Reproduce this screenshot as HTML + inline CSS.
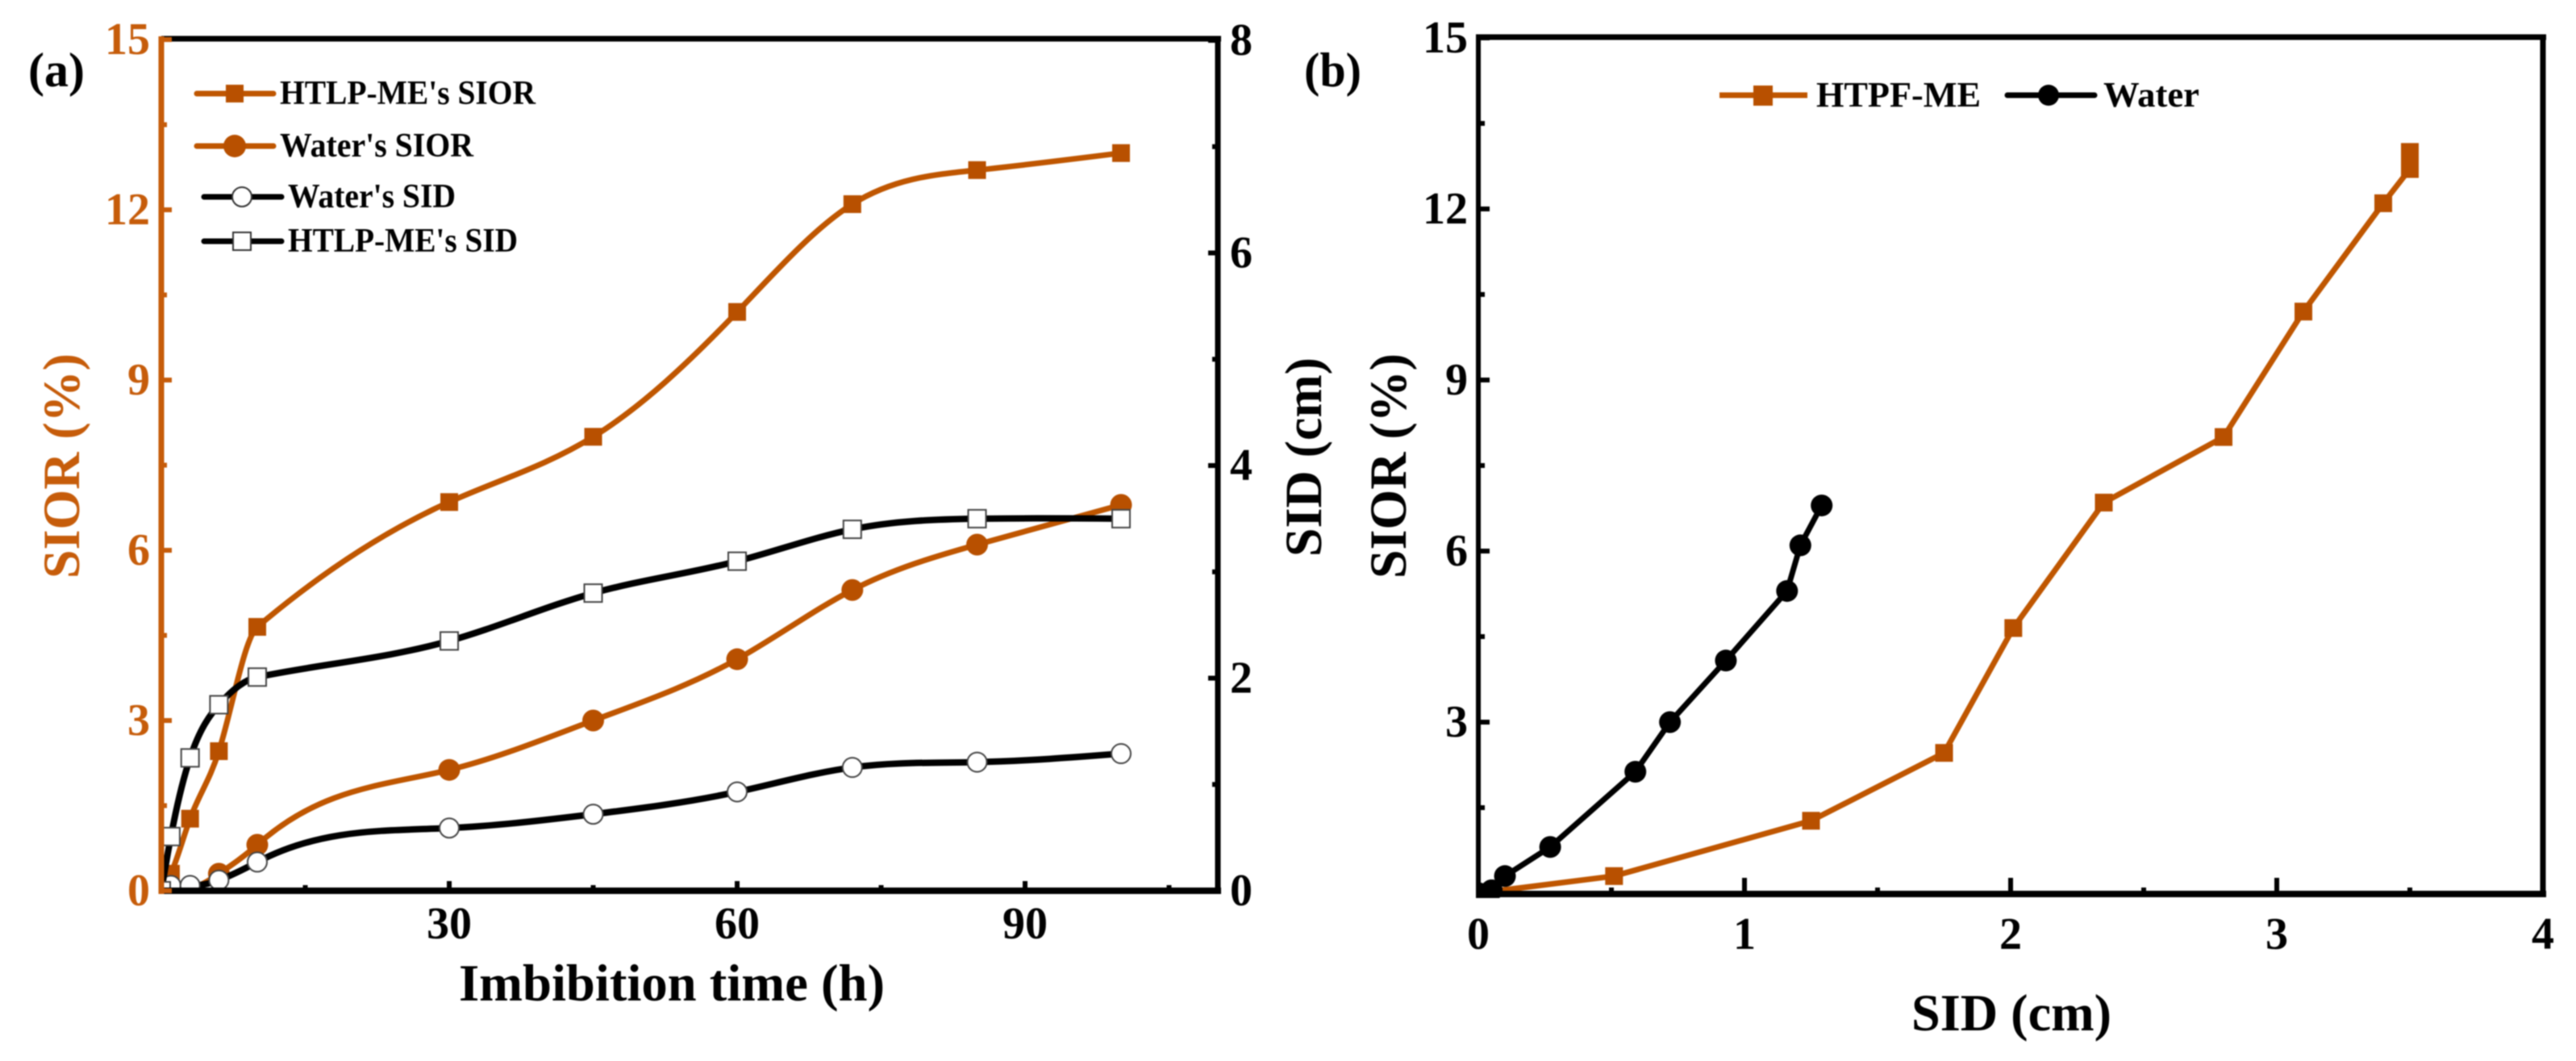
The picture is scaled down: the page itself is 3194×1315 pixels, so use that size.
<!DOCTYPE html>
<html lang="en">
<head>
<meta charset="utf-8">
<title>SIOR and SID charts</title>
<style>
html,body{margin:0;padding:0;background:#fff}
svg{display:block;filter:blur(.9px)}
text{font-family:"Liberation Serif",serif;font-weight:bold}
</style>
</head>
<body>
<svg id="figure" xmlns="http://www.w3.org/2000/svg" width="3194" height="1315" viewBox="0 0 3194 1315">
  <defs>
    <clipPath id="clip-a"><rect x="203" y="45" width="1310" height="1055"/></clipPath>
    <clipPath id="clip-b"><rect x="1830" y="43" width="1326" height="1070"/></clipPath>
  </defs>
  <rect width="3194" height="1315" fill="#fff"/>
  <g id="series-a" clip-path="url(#clip-a)"></g>
  <g id="series-b" clip-path="url(#clip-b)"></g>

  <g>
    <line x1="200" y1="48" x2="1514" y2="48" stroke="#000" stroke-width="7"/>
    <line x1="1510" y1="45" x2="1510" y2="1108" stroke="#000" stroke-width="7"/>
    <line x1="200" y1="1104" x2="1514" y2="1104" stroke="#000" stroke-width="8"/>
    <line x1="200" y1="45" x2="200" y2="1108" stroke="#c65c0a" stroke-width="7"/>
  </g>
  <g>
    <line x1="1830" y1="46" x2="3157" y2="46" stroke="#000" stroke-width="7"/>
    <line x1="3153" y1="43" x2="3153" y2="1112" stroke="#000" stroke-width="7"/>
    <line x1="1830" y1="1108" x2="3157" y2="1108" stroke="#000" stroke-width="8"/>
    <line x1="1833" y1="43" x2="1833" y2="1112" stroke="#000" stroke-width="6"/>
  </g>
  <g id="ticks"></g>

  <text x="35" y="107" font-size="60" textLength="70" lengthAdjust="spacingAndGlyphs">(a)</text>
  <text x="1617" y="107" font-size="60" textLength="71" lengthAdjust="spacingAndGlyphs">(b)</text>

  <text x="569" y="1240" font-size="65" textLength="528" lengthAdjust="spacingAndGlyphs">Imbibition time (h)</text>
  <text transform="translate(98 717) rotate(-90)" font-size="65" fill="#c65c0a" textLength="279" lengthAdjust="spacingAndGlyphs">SIOR (%)</text>
  <text transform="translate(1638 690) rotate(-90)" font-size="65" textLength="247" lengthAdjust="spacingAndGlyphs">SID (cm)</text>
  <text transform="translate(1743 717) rotate(-90)" font-size="65" textLength="279" lengthAdjust="spacingAndGlyphs">SIOR (%)</text>
  <text x="2370" y="1277" font-size="65" textLength="248" lengthAdjust="spacingAndGlyphs">SID (cm)</text>

  <g>
    <g>
      <line x1="244" y1="116" x2="339" y2="116" stroke="#bf5600" stroke-width="7" stroke-linecap="round"/>
      <rect x="280" y="105" width="22" height="22" fill="#b85000"/>
      <text x="347" y="129" font-size="42" textLength="317" lengthAdjust="spacingAndGlyphs">HTLP-ME's SIOR</text>
    </g>
    <g>
      <line x1="244" y1="181" x2="339" y2="181" stroke="#bf5600" stroke-width="7" stroke-linecap="round"/>
      <circle cx="291" cy="181" r="14" fill="#b85000"/>
      <text x="347" y="194" font-size="42" textLength="240" lengthAdjust="spacingAndGlyphs">Water's SIOR</text>
    </g>
    <g>
      <line x1="253" y1="244" x2="349" y2="244" stroke="#000" stroke-width="7" stroke-linecap="round"/>
      <circle cx="300" cy="244" r="12" fill="#fff" stroke="#333" stroke-width="2"/>
      <text x="357" y="257" font-size="42" textLength="208" lengthAdjust="spacingAndGlyphs">Water's SID</text>
    </g>
    <g>
      <line x1="253" y1="299" x2="349" y2="299" stroke="#000" stroke-width="7" stroke-linecap="round"/>
      <rect x="289" y="288" width="22" height="22" fill="#fff" stroke="#333" stroke-width="2"/>
      <text x="357" y="312" font-size="42" textLength="285" lengthAdjust="spacingAndGlyphs">HTLP-ME's SID</text>
    </g>
  </g>

  <g>
    <g>
      <line x1="2132" y1="118" x2="2241" y2="118" stroke="#bf5600" stroke-width="7"/>
      <rect x="2174" y="106" width="24" height="25" fill="#b85000"/>
      <text x="2252" y="132" font-size="44" textLength="204" lengthAdjust="spacingAndGlyphs">HTPF-ME</text>
    </g>
    <g>
      <line x1="2489" y1="118" x2="2597" y2="118" stroke="#000" stroke-width="7" stroke-linecap="round"/>
      <circle cx="2540" cy="118" r="13" fill="#000"/>
      <text x="2608" y="132" font-size="44" textLength="119" lengthAdjust="spacingAndGlyphs">Water</text>
    </g>
  </g>
</svg>

<script>
const timeHours = [0, 1, 3, 6, 10, 30, 45, 60, 72, 85, 100];
const htlpSior = [0, 0.3, 1.27, 2.46, 4.65, 6.85, 8.0, 10.2, 12.1, 12.7, 13.0];
const waterSior = [0, 0.05, 0.05, 0.3, 0.81, 2.13, 3.0, 4.08, 5.3, 6.1, 6.8];
const waterSid = [0, 0.05, 0.05, 0.1, 0.27, 0.59, 0.72, 0.93, 1.16, 1.21, 1.29];
const htlpSid = [0, 0.51, 1.25, 1.75, 2.01, 2.35, 2.8, 3.1, 3.4, 3.5, 3.5];

const panelATimeTicks = [30, 60, 90];
const panelATimeMinorTicks = [15, 45, 75, 105];
const panelASiorTicks = [0, 3, 6, 9, 12, 15];
const panelASiorMinorTicks = [1.5, 4.5, 7.5, 10.5, 13.5];
const panelASidTicks = [0, 2, 4, 6, 8];
const panelASidMinorTicks = [1, 3, 5, 7];
const panelBSidTicks = [0, 1, 2, 3, 4];
const panelBSidMinorTicks = [0.5, 1.5, 2.5, 3.5];
const panelBSiorTicks = [3, 6, 9, 12, 15];
const panelBSiorMinorTicks = [1.5, 4.5, 7.5, 10.5, 13.5];

const NS = 'http://www.w3.org/2000/svg';
const ORANGE = '#bf5600';
const ORANGE_FILL = '#b85000';
const AXIS_ORANGE = '#c65c0a';

const axTime = v => 200 + v * 11.9;
const aySior = v => 1104 - v * 70.33;
const aySid = v => 1104 - v * 131.75;
const bxSid = v => 1833 + v * 330;
const bySior = v => 1107 - v * 70.67;

function make(tag, attrs, parent) {
  const el = document.createElementNS(NS, tag);
  for (const k in attrs) el.setAttribute(k, attrs[k]);
  parent.appendChild(el);
  return el;
}

/* cubic spline through the points; where a short interval meets a much
   longer one the slope is pinned (scaled by bend) to avoid overshoot */
function smoothPath(pts, bend) {
  const n = pts.length;
  const h = [];
  const s = [];
  for (let i = 0; i < n - 1; i++) {
    h.push(pts[i + 1][0] - pts[i][0]);
    s.push((pts[i + 1][1] - pts[i][1]) / h[i]);
  }
  const a = new Array(n).fill(0);
  const b = new Array(n).fill(0);
  const c = new Array(n).fill(0);
  const r = new Array(n).fill(0);
  b[0] = 2; c[0] = 1; r[0] = 3 * s[0];
  for (let i = 1; i < n - 1; i++) {
    if (h[i] > 3 * h[i - 1]) {
      const same = s[i - 1] * s[i] > 0;
      b[i] = 1;
      r[i] = same ? Math.sign(s[i]) * bend * Math.min(Math.abs(s[i - 1]), Math.abs(s[i])) : 0;
    } else {
      a[i] = h[i];
      b[i] = 2 * (h[i - 1] + h[i]);
      c[i] = h[i - 1];
      r[i] = 3 * (h[i] * s[i - 1] + h[i - 1] * s[i]);
    }
  }
  a[n - 1] = 1; b[n - 1] = 2; r[n - 1] = 3 * s[n - 2];
  for (let i = 1; i < n; i++) {
    const w = a[i] / b[i - 1];
    b[i] -= w * c[i - 1];
    r[i] -= w * r[i - 1];
  }
  const m = new Array(n).fill(0);
  m[n - 1] = r[n - 1] / b[n - 1];
  for (let i = n - 2; i >= 0; i--) m[i] = (r[i] - c[i] * m[i + 1]) / b[i];
  let d = 'M' + pts[0][0] + ' ' + pts[0][1];
  for (let i = 0; i < n - 1; i++) {
    const t = h[i] / 3;
    d += ' C' + (pts[i][0] + t) + ' ' + (pts[i][1] + t * m[i]) + ' ' +
         (pts[i + 1][0] - t) + ' ' + (pts[i + 1][1] - t * m[i + 1]) + ' ' +
         pts[i + 1][0] + ' ' + pts[i + 1][1];
  }
  return d;
}

function straightPath(pts) {
  return pts.map((p, i) => (i ? 'L' : 'M') + p[0] + ' ' + p[1]).join(' ');
}

function drawMarker(parent, kind, p, color) {
  let m;
  if (kind === 'square') {
    m = make('rect', { x: p[0] - 11, y: p[1] - 11, width: 22, height: 22, fill: color }, parent);
  } else if (kind === 'circle') {
    m = make('circle', { cx: p[0], cy: p[1], r: 13.5, fill: color }, parent);
  } else if (kind === 'open-square') {
    m = make('rect', { x: p[0] - 11, y: p[1] - 11, width: 22, height: 22, fill: '#fff', stroke: '#444', 'stroke-width': 2 }, parent);
  } else {
    m = make('circle', { cx: p[0], cy: p[1], r: 12, fill: '#fff', stroke: '#444', 'stroke-width': 2 }, parent);
  }
  
  
}

function drawSeries(parent, pts, color, width, kind, bend) {
  const path = make('path', {
    d: bend ? smoothPath(pts, bend) : straightPath(pts),
    fill: 'none', stroke: color, 'stroke-width': width, 'stroke-linejoin': 'round'
  }, parent);
  
  
  pts.forEach(p => drawMarker(parent, kind, p, color === ORANGE ? ORANGE_FILL : color));
}

const seriesA = document.getElementById('series-a');
const seriesB = document.getElementById('series-b');
const ticksG = document.getElementById('ticks');

drawSeries(seriesA, timeHours.map((t, i) => [axTime(t), aySior(htlpSior[i])]), ORANGE, 7, 'square', 1.3);
drawSeries(seriesA, timeHours.map((t, i) => [axTime(t), aySior(waterSior[i])]), ORANGE, 7, 'circle', 2.3);
drawSeries(seriesA, timeHours.map((t, i) => [axTime(t), aySid(waterSid[i])]), '#000', 8, 'open-circle', 3);
drawSeries(seriesA, timeHours.map((t, i) => [axTime(t), aySid(htlpSid[i])]), '#000', 8, 'open-square', 1.1);

drawSeries(seriesB, htlpSid.map((s, i) => [bxSid(s), bySior(htlpSior[i])]), ORANGE, 7, 'square', 0);
drawSeries(seriesB, waterSid.map((s, i) => [bxSid(s), bySior(waterSior[i])]), '#000', 7, 'circle', 0);

function tickLine(x1, y1, x2, y2, color) {
  const l = make('line', { x1, y1, x2, y2, stroke: color, 'stroke-width': 6 }, ticksG);
  
  
}

function tickLabel(x, y, str, anchor, color) {
  const t = make('text', { x, y, 'font-size': 56, 'text-anchor': anchor, fill: color }, ticksG);
  t.textContent = str;
  
  
}

/* panel a bottom axis */
panelATimeTicks.forEach(v => {
  tickLine(axTime(v), 1104, axTime(v), 1092, '#000');
  tickLabel(axTime(v), 1163, String(v), 'middle', '#000');
});
panelATimeMinorTicks.forEach(v => tickLine(axTime(v), 1104, axTime(v), 1097, '#000'));

/* panel a left axis */
panelASiorTicks.forEach(v => {
  tickLine(200, aySior(v), 213, aySior(v), AXIS_ORANGE);
  tickLabel(186, aySior(v) + 18, String(v), 'end', AXIS_ORANGE);
});
panelASiorMinorTicks.forEach(v => tickLine(200, aySior(v), 207, aySior(v), AXIS_ORANGE));

/* panel a right axis */
panelASidTicks.forEach(v => {
  tickLine(1510, aySid(v), 1498, aySid(v), '#000');
  tickLabel(1525, aySid(v) + 18, String(v), 'start', '#000');
});
panelASidMinorTicks.forEach(v => tickLine(1510, aySid(v), 1503, aySid(v), '#000'));

/* panel b bottom axis */
panelBSidTicks.forEach(v => {
  tickLine(bxSid(v), 1108, bxSid(v), 1088, '#000');
  tickLabel(bxSid(v), 1176, String(v), 'middle', '#000');
});
panelBSidMinorTicks.forEach(v => tickLine(bxSid(v), 1108, bxSid(v), 1100, '#000'));

/* panel b left axis */
panelBSiorTicks.forEach(v => {
  tickLine(1833, bySior(v), 1847, bySior(v), '#000');
  tickLabel(1820, bySior(v) + 18, String(v), 'end', '#000');
});
panelBSiorMinorTicks.forEach(v => tickLine(1833, bySior(v), 1841, bySior(v), '#000'));
</script>
</body>
</html>
